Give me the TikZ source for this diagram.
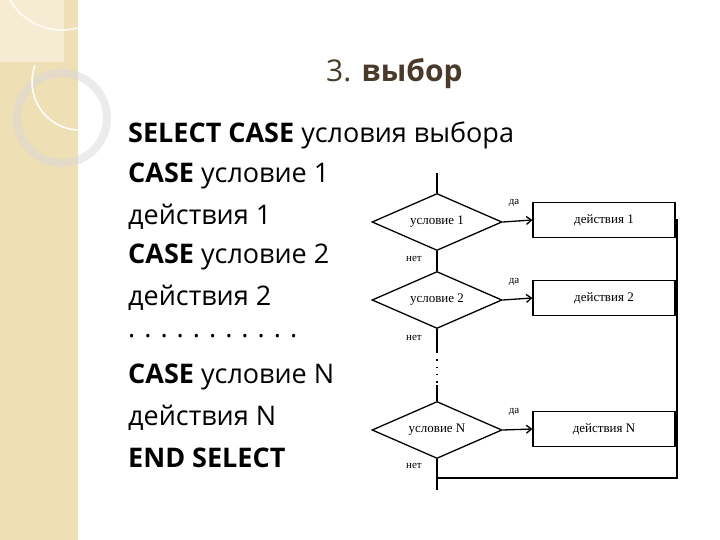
\documentclass[tikz,border=0pt]{standalone}
\usepackage{fontspec}
\setmainfont{Open Sans}
\newfontfamily\fcfont{Liberation Serif}
\usetikzlibrary{shapes.geometric,arrows.meta}
\definecolor{side}{HTML}{EEDFB5}
\definecolor{titlec}{HTML}{4A3A2A}
\begin{document}
\begin{tikzpicture}[x=1pt,y=-1pt,
  txt/.style={anchor=west,font=\fontsize{27}{27}\selectfont,inner sep=0},
  dia/.style={diamond,draw,line width=1.3pt,minimum width=130pt,minimum height=57pt,aspect=2.3,inner sep=0,font=\fcfont\fontsize{13}{13}\selectfont},
  act/.style={rectangle,draw,line width=1.3pt,minimum width=142pt,minimum height=35pt,font=\fcfont\fontsize{13}{13}\selectfont},
  lbl/.style={font=\fcfont\fontsize{11}{11}\selectfont,inner sep=0},
  ln/.style={line width=1.3pt},
  arr/.style={line width=1.3pt,-{Straight Barb[length=5pt,width=8pt]}}]
\useasboundingbox (0,0) rectangle (720,540);
\fill[white] (0,0) rectangle (720,540);
\fill[side] (0,0) rectangle (78,540);
\fill[side!60!white] (0,0) rectangle (64,62);
\draw[white,line width=2pt,opacity=0.7] (62,-30) circle (60);
\draw[black!15,line width=8pt,opacity=0.5] (62,118) circle (45);
\draw[white,line width=1.5pt] (80,130) arc (90:200:48);
\node[anchor=base west,text=titlec,inner sep=0] (title) at (326,82) {\fontsize{30}{30}\selectfont 3. \textbf{выбор}};
\node[txt] (l1) at (128,135) {\textbf{SELECT CASE} условия выбора};
\node[txt] (l2) at (128,176) {\textbf{CASE} условие 1};
\node[txt] (l3) at (128,217) {действия 1};
\node[txt] (l4) at (128,257) {\textbf{CASE} условие 2};
\node[txt] (l5) at (128,298) {действия 2};
\node[txt] (l6) at (128,336) {.\hspace{9pt}.\hspace{9pt}.\hspace{9pt}.\hspace{9pt}.\hspace{9pt}.\hspace{9pt}.\hspace{9pt}.\hspace{9pt}.\hspace{9pt}.\hspace{9pt}.};
\node[txt] (l7) at (128,377) {\textbf{CASE} условие N};
\node[txt] (l8) at (128,418) {действия N};
\node[txt] (l9) at (128,458) {\textbf{END SELECT}};
\coordinate (top) at (437,173);
\node[dia] (d1) at (437,222) {условие 1};
\node[dia] (d2) at (437,300) {условие 2};
\node[dia] (dn) at (437,430) {условие N};
\node[act] (a1) at (604,220) {действия 1};
\node[act] (a2) at (604,298) {действия 2};
\node[act] (an) at (604,429) {действия N};
\draw[ln] (top) -- (d1.north);
\draw[ln] (d1.south) -- (d2.north);
\coordinate (g1) at (437,352);
\coordinate (g2) at (437,385);
\draw[ln] (d2.south) -- (g1);
\draw[line width=1.3pt,dash pattern=on 1.3pt off 6pt] (g1) -- (g2);
\draw[ln] (g2) -- (dn.north);
\coordinate (bot) at (437,490);
\coordinate (br) at (677,478);
\coordinate (bl) at (437,478);
\draw[ln] (dn.south) -- (bot);
\draw[arr] (d1.east) -- (a1.west);
\draw[arr] (d2.east) -- (a2.west);
\draw[arr] (dn.east) -- (an.west);
\draw[ln] (a1.east) -- (a1.east -| br) -- (br) -- (bl);
\draw[ln] (a2.east) -- (a2.east -| br);
\draw[ln] (an.east) -- (an.east -| br);
\node[lbl] (y1) at (514,203) {да};
\node[lbl] (y2) at (514,282) {да};
\node[lbl] (y3) at (514,412) {да};
\node[lbl] (n1) at (414,259) {нет};
\node[lbl] (n2) at (414,338) {нет};
\node[lbl] (n3) at (414,466) {нет};
\end{tikzpicture}
\end{document}
